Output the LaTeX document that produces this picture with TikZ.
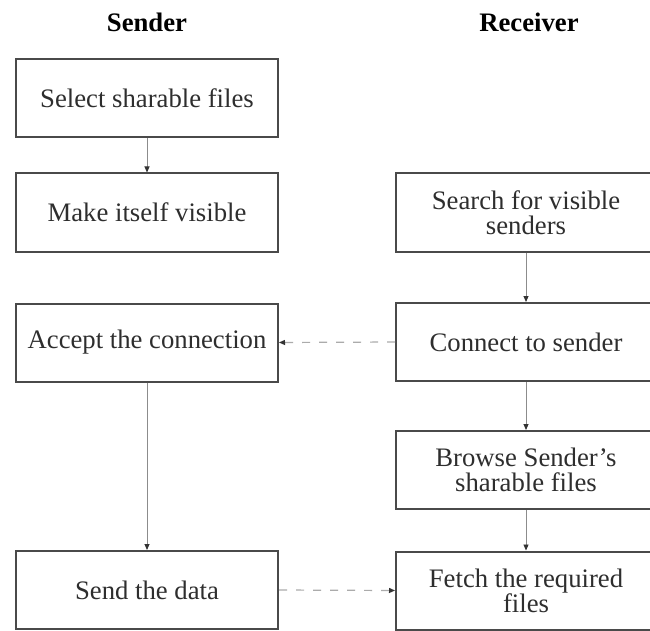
\documentclass[tikz,border=0pt]{standalone}
\usepackage{fontspec}
\setmainfont{Liberation Serif}
\usetikzlibrary{arrows.meta}
\definecolor{boxline}{HTML}{4A4A4A}
\definecolor{inktext}{HTML}{2E2E2E}
\definecolor{flowline}{HTML}{8C8C8C}
\definecolor{dashline}{HTML}{ABABAB}
\begin{document}
\begin{tikzpicture}[x=1pt,y=-1pt,
  stepbox/.style={draw=boxline,line width=2pt,rectangle,minimum height=78pt,
    text=inktext,align=center,inner sep=0pt,
    font=\fontsize{26.7}{25}\selectfont},
  leftbox/.style={stepbox,minimum width=262pt},
  rightbox/.style={stepbox,minimum width=260pt},
  heading/.style={anchor=base,text=black,font=\fontsize{26.7}{25}\selectfont\bfseries},
  flow/.style={draw=flowline,line width=0.9pt,-{Triangle[length=6pt,width=5pt,color=black!80]}},
  link/.style={draw=dashline,line width=1.2pt,dash pattern=on 8pt off 9pt,
    -{Triangle[length=6pt,width=5pt,color=black!80]}}]
\clip (0,0) rectangle (650,631);
\fill[white] (0,0) rectangle (650,631);

% column headings
\node[heading] (hs) at (147,32) {Sender};
\node[heading] (hr) at (529,32) {Receiver};

% sender column
\node[leftbox] (s1) at (147,98.5) {Select sharable files};
\node[leftbox] (s2) at (147,212.5) {Make itself visible};
\node[leftbox] (s3) at (147,342.5) {Accept the connection};
\node[leftbox] (s4) at (147,590) {Send the data};

% receiver column
\node[rightbox] (r1) at (526,212.5) {Search for visible\\senders};
\node[rightbox] (r2) at (526,342) {Connect to sender};
\node[rightbox] (r3) at (526,470) {Browse Sender's\\sharable files};
\node[rightbox] (r4) at (526,590.5) {Fetch the required\\files};

% vertical flow
\draw[flow] (s1.south) -- (s2.north);
\draw[flow] (s3.south) -- (s4.north);
\draw[flow] (r1.south) -- (r2.north);
\draw[flow] (r2.south) -- (r3.north);
\draw[flow] (r3.south) -- (r4.north);

% exchanges between sender and receiver
\draw[link] (r2.west) -- (s3.east);
\draw[link] (s4.east) -- (r4.west);
\end{tikzpicture}
\end{document}
